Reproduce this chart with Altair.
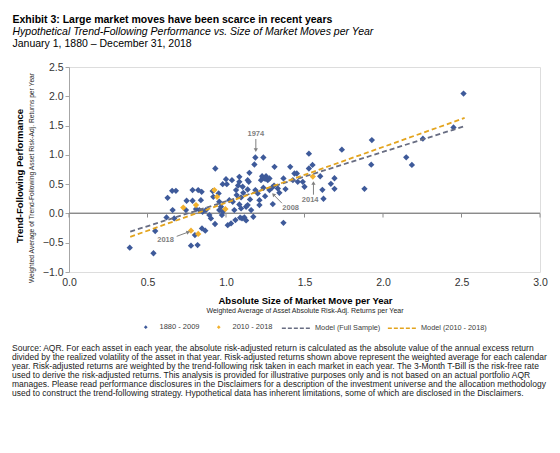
import altair as alt
import pandas as pd

# ---------------- data ----------------
x_1880_2009 = [0.387, 0.538, 0.549, 0.628, 0.621, 0.660, 0.657, 0.681, 0.670, 0.749,
               0.745, 0.787, 0.787, 0.777, 0.819, 0.802, 0.823, 0.845, 0.840, 0.830,
               0.809, 0.847, 0.868, 0.851, 0.872, 0.894, 0.904, 0.919, 0.932, 0.915,
               0.930, 0.953, 0.957, 0.968, 0.957, 0.979, 0.979, 0.974, 1.000, 1.011,
               1.021, 1.032, 1.038, 1.043, 1.053, 1.060, 1.064, 1.068, 1.077, 1.085,
               1.085, 1.085, 1.096, 1.096, 1.102, 1.106, 1.110, 1.117, 1.128, 1.138,
               1.138, 1.145, 1.149, 1.153, 1.160, 1.138, 1.174, 1.181, 1.187, 1.238,
               1.187, 1.202, 1.213, 1.213, 1.223, 1.230, 1.238, 1.249, 1.255, 1.266,
               1.277, 1.277, 1.294, 1.298, 1.309, 1.330, 1.340, 1.366, 1.379, 1.366,
               1.409, 1.426, 1.436, 1.451, 1.457, 1.489, 1.500, 1.528, 1.528, 2.513,
               2.449, 2.254, 1.929, 1.925, 2.148, 2.184, 1.882, 1.738, 1.691, 1.691,
               1.668, 1.621, 1.614, 1.600, 1.551, 1.090, 1.234, 1.249, 1.306, 1.005,
               1.128]
y_1880_2009 = [-0.585, -0.680, -0.300, 0.267, -0.068, 0.057, 0.386, 0.386, -0.085, 0.216,
               0.057, 0.398, 0.216, -0.550, -0.540, -0.370, 0.398, 0.369, 0.227, 0.057,
               0.074, -0.256, -0.295, 0.028, 0.057, -0.028, -0.085, 0.284, 0.767, 0.381,
               -0.180, 0.341, 0.199, 0.114, 0.057, 0.028, 0.500, -0.028, 0.585, -0.200,
               0.227, -0.170, 0.568, 0.199, 0.057, -0.114, 0.398, 0.313, 0.477, 0.625,
               0.540, 0.153, 0.273, 0.085, -0.085, 0.455, 0.352, -0.068, 0.114, 0.568,
               0.409, 0.540, 0.693, 0.239, 0.057, 0.142, -0.057, 0.835, 0.955, 0.955,
               0.398, 0.341, 0.227, 0.142, 0.568, 0.636, 0.438, 0.295, 0.636, 0.568,
               0.597, 0.398, 0.443, 0.159, 0.795, 0.426, 0.352, -0.160, 0.415, 0.597,
               0.795, 0.568, 0.682, 0.682, 0.540, 0.540, 0.455, 1.020, 0.767, 2.046,
               1.468, 1.276, 1.253, 0.833, 0.958, 0.828, 0.420, 1.088, 0.600, 0.420,
               0.505, 0.250, 0.403, 0.635, 0.828, -0.073, 0.607, 0.590, 0.476, 0.500,
               -0.119]
x_2010_2018 = [0.728, 0.809, 0.777, 0.823, 0.926, 0.943, 0.996, 1.553]
y_2010_2018 = [0.100, 0.142, -0.295, -0.350, 0.398, 0.284, 0.074, 0.629]

model_x = [0.39, 2.52]
model_full_y = [-0.31, 1.49]
model_recent_y = [-0.40, 1.63]

series_names = ["1880 - 2009", "2010 - 2018"]
model_names = ["Model (Full Sample)", "Model (2010 - 2018)"]

x_tick_values = [0.0, 0.5, 1.0, 1.5, 2.0, 2.5, 3.0]
y_tick_values = [-1.0, -0.5, 0.0, 0.5, 1.0, 1.5, 2.0, 2.5]

annotation_text = ["1974", "2008", "2014", "2018"]
annotation_x = [1.19, 1.412, 1.536, 0.615]
annotation_y = [1.36, 0.094, 0.23, -0.446]
arrow_x0 = [1.19, 1.356, 1.557, 0.686]
arrow_y0 = [1.27, 0.175, 0.32, -0.391]
arrow_x1 = [1.19, 1.302, 1.557, 0.760]
arrow_y1 = [1.08, 0.323, 0.52, -0.318]
arrow_angle = [180, 316, 0, 70]

title_line = "Exhibit 3: Large market moves have been scarce in recent years"
subtitle_line = "Hypothetical Trend-Following Performance vs. Size of Market Moves per Year"
date_line = "January 1, 1880 \u2013 December 31, 2018"
x_title = "Absolute Size of Market Move per Year"
x_subtitle = "Weighted Average of Asset Absolute Risk-Adj. Returns per Year"
y_title = "Trend-Following Performance"
y_subtitle = "Weighted Average of Trend-Following Asset Risk-Adj. Returns per Year"
footnote_lines = [
    "Source: AQR. For each asset in each year, the absolute risk-adjusted return is calculated as the absolute value of the annual excess return",
    "divided by the realized volatility of the asset in that year. Risk-adjusted returns shown above represent the weighted average for each calendar",
    "year. Risk-adjusted returns are weighted by the trend-following risk taken in each market in each year. The 3-Month T-Bill is the risk-free rate",
    "used to derive the risk-adjusted returns. This analysis is provided for illustrative purposes only and is not based on an actual portfolio AQR",
    "manages. Please read performance disclosures in the Disclaimers for a description of the investment universe and the allocation methodology",
    "used to construct the trend-following strategy. Hypothetical data has inherent limitations, some of which are disclosed in the Disclaimers.",
]

# ---------------- tables ----------------
pts = pd.DataFrame({
    "x": x_1880_2009 + x_2010_2018,
    "y": y_1880_2009 + y_2010_2018,
    "period": [series_names[0]] * len(x_1880_2009) + [series_names[1]] * len(x_2010_2018),
})
models = pd.DataFrame({
    "x": model_x + model_x,
    "y": model_full_y + model_recent_y,
    "model": [model_names[0]] * 2 + [model_names[1]] * 2,
})
ticks = pd.DataFrame({"x": x_tick_values})
ann = pd.DataFrame({
    "label": annotation_text, "lx": annotation_x, "ly": annotation_y,
    "x0": arrow_x0, "y0": arrow_y0, "x1": arrow_x1, "y1": arrow_y1, "ang": arrow_angle,
})

FONT = "Liberation Sans"
BLUE = "#3E5A9A"
GOLD = "#F2B12E"
GREY_LINE = "#686D82"
GOLD_LINE = "#E3A41E"

xscale = alt.Scale(domain=[0, 3], nice=False, zero=False)
yscale = alt.Scale(domain=[-1, 2.5], nice=False, zero=False)

x_axis = alt.Axis(values=x_tick_values, format=".1f", grid=False, domain=False,
                  ticks=False, labelPadding=5, labelFontSize=10.5, labelFont=FONT,
                  labelColor="#333333", labelFlush=False, labelOverlap=False,
                  title=None)
y_axis = alt.Axis(values=y_tick_values, format=".1f", grid=False, domainColor="#A6A6A6",
                  tickColor="#A6A6A6", tickSize=4, labelPadding=2, labelFontSize=10.5,
                  labelFont=FONT, labelColor="#333333", labelFlush=False,
                  labelOverlap=False, title=None, tickCount=8)


def X(field):
    return alt.X(field, scale=xscale, axis=x_axis)


def Y(field):
    return alt.Y(field, scale=yscale, axis=y_axis)


points = alt.Chart(pts).mark_point(shape="diamond", filled=True, size=40, opacity=1).encode(
    x=X("x:Q"),
    y=Y("y:Q"),
    color=alt.Color("period:N", scale=alt.Scale(domain=series_names, range=[BLUE, GOLD]),
                    legend=alt.Legend(title=None, orient="none", direction="horizontal",
                                      legendX=73, legendY=256, symbolType="diamond",
                                      symbolSize=14, symbolStrokeWidth=0, labelFontSize=7.5,
                                      labelFont=FONT, labelColor="#404040", labelOffset=10,
                                      columnPadding=15, padding=0)),
    order=alt.Order("period:N"),
)

lines = alt.Chart(models).mark_line(strokeDash=[5, 3], strokeWidth=1.8).encode(
    x=X("x:Q"),
    y=Y("y:Q"),
    color=alt.Color("model:N", scale=alt.Scale(domain=model_names, range=[GREY_LINE, GOLD_LINE]),
                    legend=alt.Legend(title=None, orient="none", direction="horizontal",
                                      legendX=212, legendY=246, symbolType="stroke",
                                      symbolSize=800, symbolDash=[4, 2], symbolStrokeWidth=1.5,
                                      labelFontSize=7.3, labelFont=FONT, labelColor="#404040",
                                      labelOffset=4, columnPadding=3, padding=0)),
    detail="model:N",
)

zero_line = alt.Chart(ticks).mark_rule(color="#8C8C8C", strokeWidth=1).encode(
    y=alt.YDatum(0, scale=yscale, axis=y_axis)
)
zero_ticks = alt.Chart(ticks).mark_rule(color="#8C8C8C", strokeWidth=1).encode(
    x=X("x:Q"),
    y=alt.YDatum(0, scale=yscale, axis=y_axis),
    y2=alt.datum(-0.07),
)

arrows = alt.Chart(ann).mark_rule(color="#808080", strokeWidth=1).encode(
    x=X("x0:Q"), y=Y("y0:Q"),
    x2="x1:Q", y2="y1:Q",
)
heads = alt.Chart(ann).mark_point(shape="triangle-up", filled=True, size=18, color="#808080",
                                   opacity=1).encode(
    x=X("x1:Q"), y=Y("y1:Q"),
    angle=alt.Angle("ang:Q", scale=None),
)
ann_text = alt.Chart(ann).mark_text(font=FONT, fontSize=7.5, fontWeight="bold",
                                     color="#7F7F7F").encode(
    x=X("lx:Q"), y=Y("ly:Q"),
    text="label:N",
)


def label(txt, x, y, **kw):
    return alt.Chart(pd.DataFrame({"t": [txt]})).mark_text(font=FONT, **kw).encode(
        x=alt.value(x), y=alt.value(y), text="t:N")


texts = [
    label(title_line, -56.5, -43.7, fontSize=10.5, fontWeight="bold", align="left",
          baseline="alphabetic", color="#000000"),
    label(subtitle_line, -56.5, -32, fontSize=10.5, fontStyle="italic", align="left",
          baseline="alphabetic", color="#000000"),
    label(date_line, -56.5, -20.3, fontSize=10.5, align="left", baseline="alphabetic",
          color="#000000"),
    label(x_title, 236.5, 237.3, fontSize=9.5, fontWeight="bold", align="center",
          baseline="alphabetic", color="#000000"),
    label(x_subtitle, 236, 245.8, fontSize=7, align="center", baseline="alphabetic",
          color="#262626"),
    label(y_title, -49, 109, fontSize=9.5, fontWeight="bold", align="center",
          baseline="middle", angle=270, color="#000000"),
    label(y_subtitle, -37, 111, fontSize=6.7, align="center", baseline="middle", angle=270,
          color="#262626"),
    alt.Chart(pd.DataFrame({"t": ["\n".join(footnote_lines)]})).mark_text(
        font=FONT, fontSize=8.5, align="left", baseline="middle", lineBreak="\n",
        lineHeight=8.9, color="#1A1A1A").encode(
        x=alt.value(-57), y=alt.value(281), text="t:N"),
]

chart = alt.layer(
    zero_line, zero_ticks, points, lines, arrows, heads, ann_text, *texts
).resolve_scale(color="independent").properties(
    width=471, height=205,
    autosize=alt.AutoSizeParams(type="none"),
    padding={"left": 61, "top": 59, "right": 12, "bottom": 173},
).configure_view(stroke=None).configure(background="white")

chart.save("out.html", embed_options={"renderer": "svg", "actions": False})
